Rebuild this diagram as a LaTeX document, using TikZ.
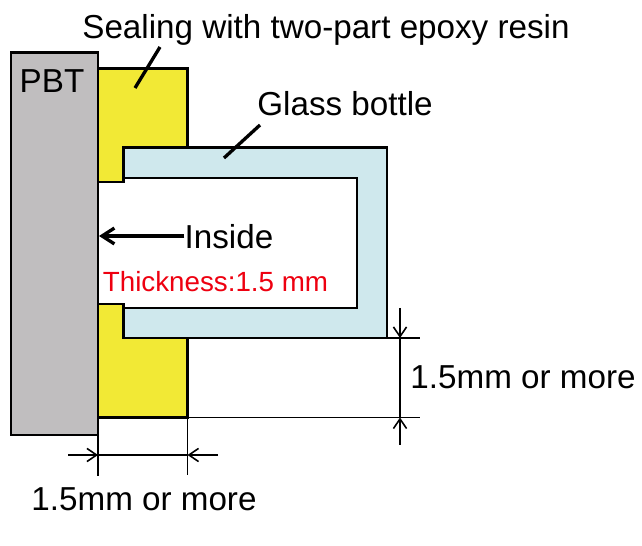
\documentclass[tikz,border=0pt]{standalone}
\usepackage{fontspec}
\setmainfont{Liberation Sans}
\usepackage{tikz}
\usetikzlibrary{arrows.meta}
\definecolor{cPBT}{RGB}{192,190,191}
\definecolor{cEpoxy}{RGB}{242,233,53}
\definecolor{cGlass}{RGB}{207,232,237}
\definecolor{cThick}{RGB}{238,0,16}
\tikzset{part/.style={draw=black,line width=1.7pt,line join=miter},
	leader/.style={line width=1.9pt},
	dimline/.style={line width=0.9pt},
	dimarrow/.style={dimline,-{Straight Barb[length=5.5pt,width=7.5pt,line width=0.9pt]}},
}
\newcommand{\lbl}{\fontsize{18.9}{22}\selectfont}

\begin{document}
\begin{tikzpicture}[x=0.02cm,y=-0.02cm]
	\tikzstyle{every node}=[font=\lbl,inner sep=0pt,text=black]
	\useasboundingbox (0,0) rectangle (642,546);
	
	\fill[white] (0,0) rectangle (642,546);
	
	%epoxy
	\draw[part,fill=cEpoxy] (98,69) -- (187.5,69) -- (187.5,148) -- (123.5,148) -- (123.5,182) -- (98,182) -- cycle;
	\draw[part,fill=cEpoxy] (98,304) -- (123.5,304) -- (123.5,338) -- (187.5,338) -- (187.5,417.5) -- (98,417.5) -- cycle;
	
	%bottle
	\draw[part,fill=cGlass] (123.5,148) -- (387,148) -- (387,338) -- (123.5,338) -- (123.5,308) -- (357,308) -- (357,178) -- (123.5,178) -- cycle;
	
	%PBT
	\draw[part,fill=cPBT] (11,53) rectangle (98,435);
	\node (pbt) at (52,81) {PBT};
	
	\node (sealing) at (326,30) {Sealing with two-part epoxy resin};
	\node (glass) at (345,104) {Glass bottle};
	\node (inside) at (229,237) {Inside};
	\node[text=cThick,font=\fontsize{15.8}{18}\selectfont] (thick) at (215.5,282) {Thickness:1.5 mm};
	\node (dimV) at (523,377) {1.5mm or more};
	\node (dimH) at (144,499) {1.5mm or more};
	
	\coordinate (sealingA) at (160,47);
	\coordinate (sealingB) at (135,88);
	\coordinate (glassA) at (260,125);
	\coordinate (glassB) at (224,158);
	\coordinate (wall) at (99,236);
	\draw[leader] (sealingA) -- (sealingB);
	\draw[leader] (glassA) -- (glassB);
	\draw[leader,-{Straight Barb[length=7pt,width=9pt,line width=1.9pt]}] (inside.west |- wall) -- (wall);
	
	%vertical dimension
	\coordinate (vTop) at (400,308);
	\coordinate (vA) at (400,338);
	\coordinate (vB) at (400,417.5);
	\coordinate (vBot) at (400,445);
	\draw[dimline] (387,338) -- (420,338);
	\draw[dimline] (187.5,417.5) -- (420,417.5);
	\draw[dimarrow] (vTop) -- (vA);
	\draw[dimline] (vA) -- (vB);
	\draw[dimarrow] (vBot) -- (vB);
	
	%horizontal dimension
	\coordinate (hLeft) at (68,455);
	\coordinate (hA) at (98,455);
	\coordinate (hB) at (187.5,455);
	\coordinate (hRight) at (218,455);
	\draw[dimline] (98,435) -- (98,476);
	\draw[dimline] (187.5,417.5) -- (187.5,475);
	\draw[dimarrow] (hLeft) -- (hA);
	\draw[dimline] (hA) -- (hB);
	\draw[dimarrow] (hRight) -- (hB);
\end{tikzpicture}
\end{document}
